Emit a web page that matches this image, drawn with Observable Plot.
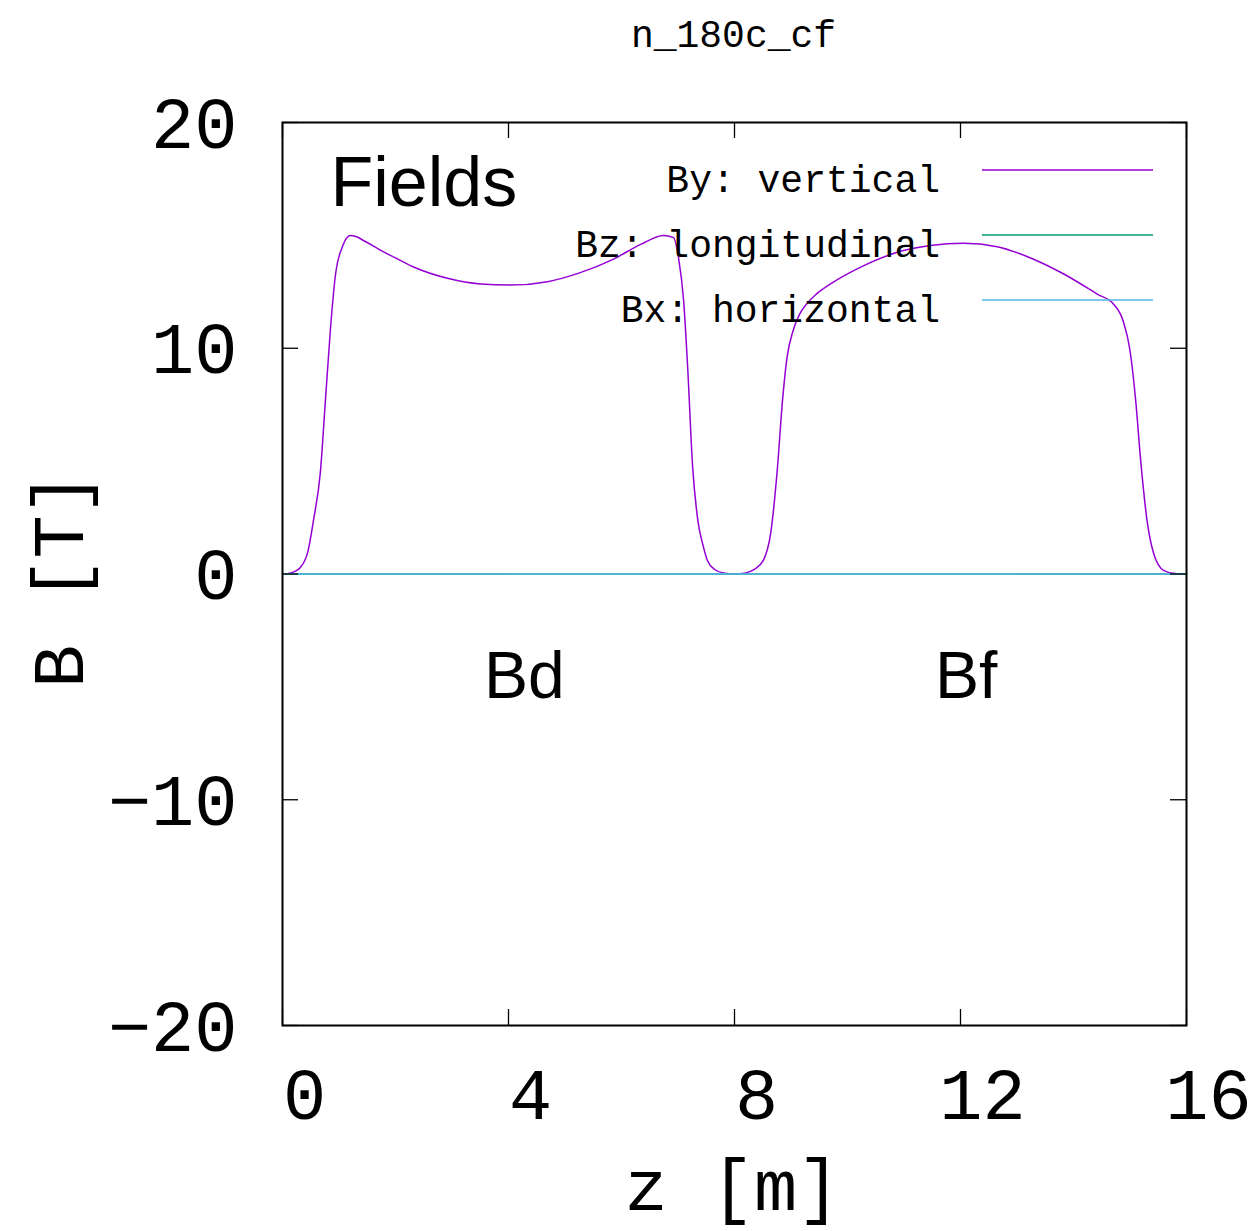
<!DOCTYPE html>
<html>
<head>
<meta charset="utf-8">
<script src="https://cdn.jsdelivr.net/npm/d3@7"></script>
<script src="https://cdn.jsdelivr.net/npm/@observablehq/plot@0.6"></script>
<style>
  html, body { margin: 0; padding: 0; background: white; }
  svg { display: block; }
</style>
</head>
<body>
<div id="chart"></div>
<script>
// ---- Data ----
const titleText = "n_180c_cf";
const xLabel = "z [m]";
const yLabel = "B [T]";
const panelLabel = "Fields";

const xTicks = [0, 4, 8, 12, 16];
const yTicks = [-20, -10, 0, 10, 20];

// By: vertical field along z
const byZ = [0, 0.15, 0.32, 0.45, 0.55, 0.67, 0.76, 0.85, 0.94, 1.06, 1.20, 1.30, 1.45, 1.73, 2.00, 2.32, 2.92, 3.50, 4.04, 4.69, 5.27, 5.86, 6.34, 6.74, 6.92, 7.01, 7.10, 7.17, 7.26, 7.35, 7.45, 7.52, 7.65, 7.80, 8.00, 8.20, 8.35, 8.51, 8.64, 8.76, 8.85, 8.93, 9.04, 9.15, 9.29, 9.45, 9.70, 10.28, 10.88, 11.47, 12.05, 12.65, 13.24, 13.82, 14.42, 14.71, 14.88, 15.00, 15.10, 15.19, 15.30, 15.42, 15.60, 15.80, 16.00];
const byB = [0, 0.05, 0.3, 1.0, 2.4, 4.5, 7.7, 10.9, 13.3, 14.5, 15.0, 14.95, 14.75, 14.35, 14.0, 13.6, 13.1, 12.85, 12.8, 12.95, 13.35, 13.95, 14.6, 15.0, 14.9, 14.0, 12.1, 9.2, 4.7, 2.4, 1.2, 0.6, 0.2, 0.05, 0.0, 0.05, 0.2, 0.6, 1.8, 4.7, 7.7, 9.6, 10.8, 11.5, 12.0, 12.4, 12.85, 13.65, 14.25, 14.55, 14.65, 14.5, 14.0, 13.3, 12.4, 11.95, 11.2, 9.9, 7.7, 5.0, 2.4, 0.9, 0.15, 0.02, 0];

// Bz: longitudinal and Bx: horizontal (zero everywhere)
const bzZ = [0, 16];
const bzB = [0, 0];
const bxZ = [0, 16];
const bxB = [0, 0];

const seriesNames = ["By: vertical", "Bz: longitudinal", "Bx: horizontal"];
const seriesColors = ["#9400d3", "#009e73", "#56b4e9"];

// Magnet annotations
const annotLabels = ["Bd", "Bf"];
const annotZ = [4.28, 12.1];
const annotB = [-5.5, -5.5];

// ---- Build tables ----
const byData = byZ.map((z, i) => ({z, B: byB[i]}));
const bzData = bzZ.map((z, i) => ({z, B: bzB[i]}));
const bxData = bxZ.map((z, i) => ({z, B: bxB[i]}));
const annotData = annotLabels.map((t, i) => ({t, z: annotZ[i], B: annotB[i]}));
const legendData = seriesNames.map((name, i) => ({name, color: seriesColors[i]}));

// ---- Layout ----
const W = 1250, H = 1231;
const mL = 282, mR = 64, mT = 122, mB = 206;
const plotW = W - mL - mR, plotH = H - mT - mB;
const tickLen = 16;
const big = 72;
const mono = "Liberation Mono, Courier New, monospace";
const sans = "Liberation Sans, Arial, Helvetica, sans-serif";
const fmt = d => d < 0 ? "\u2212" + Math.abs(d) : String(d);

function legendMark(index, scales, values, dimensions) {
  const {width, marginRight, marginTop} = dimensions;
  const right = width - marginRight;
  const g = d3.create("svg:g");
  legendData.forEach((d, i) => {
    const yLine = marginTop + 48 + i * 65;
    g.append("text")
      .attr("x", right - 246)
      .attr("y", yLine + 22)
      .attr("text-anchor", "end")
      .attr("font-family", mono)
      .attr("font-size", 38)
      .attr("fill", "black")
      .text(d.name);
    g.append("line")
      .attr("x1", right - 204).attr("x2", right - 33)
      .attr("y1", yLine).attr("y2", yLine)
      .attr("stroke", d.color)
      .attr("stroke-width", 1.6);
  });
  return g.node();
}

const chart = Plot.plot({
  width: W,
  height: H,
  marginLeft: mL,
  marginRight: mR,
  marginTop: mT,
  marginBottom: mB,
  style: {background: "white", fontFamily: mono, fontSize: big + "px", overflow: "visible"},
  x: {domain: [0, 16]},
  y: {domain: [-20, 20]},
  marks: [
    // series
    Plot.line(byData, {x: "z", y: "B", stroke: seriesColors[0], strokeWidth: 1.5, curve: "monotone-x"}),
    Plot.line(bzData, {x: "z", y: "B", stroke: seriesColors[1], strokeWidth: 1.6}),
    Plot.line(bxData, {x: "z", y: "B", stroke: seriesColors[2], strokeWidth: 1.6}),
    // inward ticks on all four sides
    Plot.tickX(xTicks, {x: d => d, stroke: "black", strokeWidth: 1.3, insetTop: plotH - tickLen}),
    Plot.tickX(xTicks, {x: d => d, stroke: "black", strokeWidth: 1.3, insetBottom: plotH - tickLen}),
    Plot.tickY(yTicks, {y: d => d, stroke: "black", strokeWidth: 1.3, insetRight: plotW - tickLen}),
    Plot.tickY(yTicks, {y: d => d, stroke: "black", strokeWidth: 1.3, insetLeft: plotW - tickLen}),
    Plot.frame({stroke: "black", strokeWidth: 2}),
    // tick labels
    Plot.axisX({ticks: xTicks, tickSize: 0, tickPadding: 42, tickFormat: fmt, label: null, fontSize: big, fontFamily: mono, dx: 22, fill: "black"}),
    Plot.axisY({ticks: yTicks, tickSize: 0, tickPadding: 45, tickFormat: fmt, label: null, fontSize: big, fontFamily: mono, dy: 2, fill: "black"}),
    // axis titles
    Plot.text([xLabel], {text: d => d, frameAnchor: "bottom", textAnchor: "middle", lineAnchor: "bottom", dy: 184, dx: -2, fontSize: big, fontFamily: mono, fill: "black"}),
    Plot.text([yLabel], {text: d => d, frameAnchor: "left", textAnchor: "middle", lineAnchor: "bottom", rotate: -90, dx: -200, dy: 6, fontSize: big, fontFamily: mono, fill: "black"}),
    // chart title
    Plot.text([titleText], {text: d => d, frameAnchor: "top", lineAnchor: "bottom", dy: -76, dx: -1, fontSize: 38, fontFamily: mono, fill: "black"}),
    // panel label
    Plot.text([panelLabel], {text: d => d, frameAnchor: "top-left", textAnchor: "start", lineAnchor: "bottom", dx: 48, dy: 83, fontSize: 70, fontFamily: sans, fill: "black"}),
    // magnet annotations
    Plot.text(annotData, {x: "z", y: "B", text: "t", lineAnchor: "bottom", fontSize: 66, fontFamily: sans, fill: "black"}),
    // legend
    legendMark
  ]
});

document.getElementById("chart").appendChild(chart);
</script>
</body>
</html>
